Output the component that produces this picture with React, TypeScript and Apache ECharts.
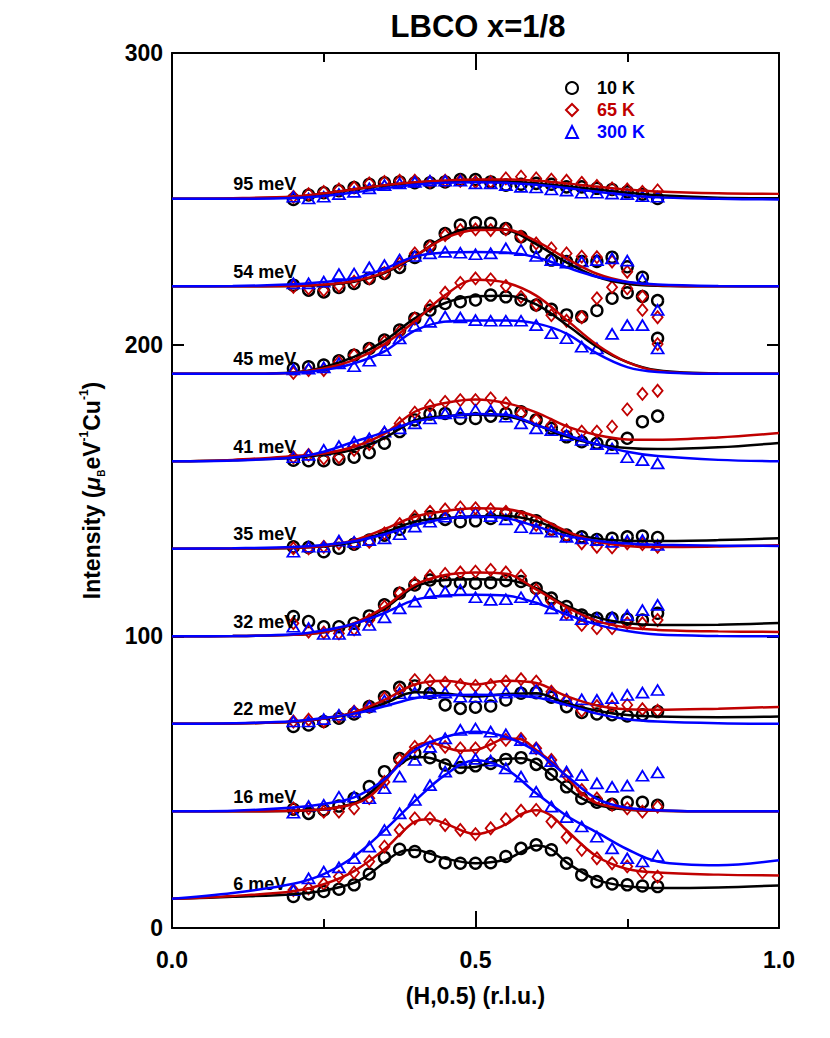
import React, { useEffect, useRef } from "react";
import * as echarts from "echarts";

// ---------- data ----------
const H = [0.2, 0.225, 0.25, 0.275, 0.3, 0.325, 0.35, 0.375, 0.4, 0.425, 0.45, 0.475, 0.5, 0.525, 0.55, 0.575, 0.6, 0.625, 0.65, 0.675, 0.7, 0.725, 0.75, 0.775, 0.8];
const ENERGIES = ["6 meV", "16 meV", "22 meV", "32 meV", "35 meV", "41 meV", "45 meV", "54 meV", "95 meV"];
const BASELINES = [10, 40, 70, 100, 130, 160, 190, 220, 250];
const TEMPS = ["10 K", "65 K", "300 K"];
const X_LABELS = ["0.0", "0.5", "1.0"];

// 10 K
const K10_6 = [10.8, 11.7, 12.5, 13.3, 14.8, 18.5, 24.2, 27.0, 26.2, 24.5, 22.4, 22.2, 22.2, 22.4, 24.5, 27.3, 28.5, 26.8, 22.2, 18.2, 15.9, 15.1, 14.8, 14.4, 14.2];
const K10_16 = [40.7, 39.3, 40.5, 41.8, 44.5, 48.5, 53.6, 58.1, 59.9, 58.4, 55.9, 55.0, 55.6, 56.4, 57.8, 58.4, 56.1, 52.7, 48.4, 44.4, 43.1, 42.4, 43.1, 43.1, 42.1];
const K10_22 = [69.1, 69.6, 70.8, 71.9, 73.4, 75.9, 79.3, 82.5, 83.0, 80.5, 76.5, 75.3, 75.7, 76.1, 78.2, 80.5, 80.7, 79.1, 75.9, 73.9, 73.4, 73.1, 72.7, 73.1, 74.2];
const K10_32 = [106.8, 105.1, 103.3, 103.3, 104.5, 107.0, 110.8, 114.8, 117.6, 119.3, 118.8, 118.4, 118.2, 118.4, 119.1, 118.8, 116.5, 113.1, 110.2, 107.3, 106.2, 106.2, 105.9, 105.6, 107.9];
const K10_35 = [130.7, 130.5, 129.0, 130.2, 131.6, 133.0, 134.7, 136.7, 139.9, 141.0, 140.1, 139.3, 139.6, 140.4, 141.9, 141.0, 139.6, 136.7, 134.7, 134.1, 133.2, 133.6, 134.1, 134.4, 133.9];
const K10_41 = [160.4, 160.2, 160.2, 160.7, 161.4, 163.0, 166.2, 170.2, 174.2, 176.2, 176.4, 174.7, 174.7, 175.5, 176.4, 177.0, 174.2, 171.3, 168.4, 166.7, 166.2, 165.9, 167.9, 173.6, 175.5];
const K10_45 = [191.8, 192.4, 193.0, 194.5, 196.4, 198.7, 201.6, 205.0, 209.0, 211.8, 214.1, 214.7, 215.3, 217.0, 216.4, 215.3, 213.6, 212.1, 210.2, 209.6, 211.7, 215.9, 217.8, 216.5, 202.2];
const K10_54 = [220.4, 218.7, 218.1, 219.6, 221.0, 222.7, 224.4, 226.5, 229.9, 233.8, 238.1, 241.0, 241.8, 241.6, 239.8, 237.0, 233.3, 229.0, 228.5, 228.5, 228.5, 230.0, 226.7, 223.1, 215.1];
const K10_95 = [249.8, 251.3, 252.1, 252.8, 253.9, 255.0, 255.5, 255.8, 255.5, 255.5, 255.8, 256.6, 256.6, 255.8, 254.7, 255.0, 255.3, 255.0, 254.1, 254.1, 253.6, 253.2, 252.4, 251.6, 250.1];

// 65 K
const K65_6 = [13.0, 13.6, 15.1, 17.6, 19.0, 22.8, 27.9, 33.6, 37.6, 37.6, 35.3, 33.6, 32.2, 34.2, 37.3, 40.2, 40.5, 36.5, 31.1, 26.8, 23.9, 22.2, 21.1, 19.0, 17.6];
const K65_16 = [41.0, 41.0, 39.9, 39.9, 41.0, 44.5, 50.1, 57.6, 62.1, 63.9, 62.1, 61.6, 61.6, 62.7, 64.5, 64.8, 61.6, 57.6, 52.4, 47.3, 44.4, 42.2, 41.0, 39.9, 41.6];
const K65_22 = [70.8, 71.4, 70.8, 72.5, 74.2, 75.9, 78.8, 81.6, 85.0, 84.8, 84.1, 83.3, 83.0, 83.3, 84.5, 85.3, 84.5, 81.0, 78.2, 74.5, 76.1, 75.9, 76.5, 75.0, 74.5];
const K65_32 = [104.5, 101.6, 101.3, 101.0, 102.4, 105.6, 110.2, 114.8, 118.2, 120.7, 121.4, 121.9, 122.2, 122.8, 121.9, 120.7, 115.9, 111.9, 107.9, 103.9, 102.8, 102.8, 104.5, 104.5, 105.6];
const K65_35 = [130.2, 130.2, 130.7, 131.9, 131.9, 132.4, 135.3, 138.5, 141.0, 142.7, 143.5, 144.2, 143.9, 143.5, 142.7, 140.4, 138.2, 136.4, 134.4, 131.9, 130.7, 130.5, 131.9, 131.6, 130.7];
const K65_41 = [161.4, 162.2, 161.0, 161.4, 163.9, 165.9, 169.6, 173.0, 176.7, 179.0, 180.4, 181.0, 181.0, 181.6, 179.9, 176.4, 174.2, 172.4, 170.7, 170.2, 170.2, 171.9, 177.8, 183.1, 184.2];
const K65_45 = [190.3, 191.3, 191.3, 194.1, 196.4, 198.4, 201.0, 204.4, 209.0, 213.2, 217.8, 221.2, 222.7, 222.4, 220.1, 216.4, 213.6, 210.1, 208.2, 209.4, 215.9, 219.7, 219.3, 211.9, 200.2];
const K65_54 = [219.8, 219.3, 218.7, 220.1, 221.6, 222.7, 224.6, 227.8, 231.3, 233.6, 237.6, 239.3, 239.5, 239.3, 239.5, 237.0, 234.7, 233.0, 231.3, 230.2, 230.0, 228.5, 225.0, 216.5, 209.4];
const K65_95 = [250.7, 251.6, 252.4, 253.2, 253.9, 255.3, 255.8, 256.2, 256.2, 255.8, 256.2, 256.2, 255.8, 255.8, 257.0, 257.6, 257.0, 256.6, 256.2, 255.5, 254.4, 253.6, 253.2, 252.4, 252.9];

// 300 K
const K300_6 = [13.0, 17.0, 19.3, 20.8, 23.9, 27.9, 33.6, 39.3, 43.9, 49.0, 53.6, 57.6, 58.0, 57.4, 54.7, 51.9, 46.7, 41.6, 38.0, 34.8, 31.3, 27.3, 23.9, 22.8, 24.7];
const K300_16 = [39.5, 41.8, 42.2, 45.0, 45.0, 44.5, 47.9, 51.9, 57.6, 62.1, 65.0, 67.9, 68.4, 67.3, 66.4, 64.4, 61.6, 57.2, 53.6, 52.4, 49.6, 48.4, 48.8, 52.2, 53.3];
const K300_22 = [70.8, 70.8, 71.6, 73.1, 74.2, 75.9, 78.0, 80.5, 80.7, 80.5, 80.7, 79.3, 79.3, 79.3, 80.7, 81.0, 81.6, 80.5, 78.4, 78.4, 78.2, 78.8, 79.9, 80.7, 81.6];
const K300_32 = [103.3, 102.8, 100.8, 100.8, 102.2, 103.9, 106.5, 109.6, 111.9, 114.8, 115.3, 115.9, 113.4, 112.5, 112.7, 113.4, 112.7, 109.6, 107.3, 105.9, 106.2, 106.5, 107.3, 109.0, 110.8];
const K300_35 = [129.0, 130.7, 130.7, 132.8, 132.4, 133.0, 133.6, 135.0, 137.6, 139.3, 141.0, 142.2, 142.4, 141.2, 140.1, 137.4, 137.0, 135.9, 134.1, 133.6, 133.0, 132.4, 132.8, 133.0, 131.3];
const K300_41 = [161.4, 162.2, 163.9, 165.2, 166.7, 167.9, 170.2, 171.3, 173.0, 174.7, 176.4, 176.7, 177.6, 177.4, 175.3, 173.0, 171.3, 170.7, 169.0, 167.3, 165.9, 164.4, 161.4, 160.4, 159.3];
const K300_45 = [191.5, 191.8, 192.2, 193.6, 192.6, 194.5, 198.1, 202.1, 206.4, 207.8, 209.6, 209.3, 208.4, 208.2, 208.2, 208.2, 206.7, 203.9, 202.2, 199.3, 198.7, 203.7, 206.7, 206.7, 198.7];
const K300_54 = [221.0, 221.0, 221.6, 224.2, 224.4, 226.5, 227.3, 229.2, 230.4, 231.3, 231.8, 231.5, 231.0, 231.3, 233.0, 232.4, 230.4, 229.0, 228.1, 228.5, 229.0, 229.6, 228.8, 222.4, 211.9];
const K300_95 = [250.7, 250.1, 250.7, 251.6, 252.4, 253.6, 254.7, 255.3, 255.8, 256.2, 256.2, 256.2, 255.3, 255.3, 254.7, 254.1, 253.9, 253.2, 252.8, 252.1, 252.1, 251.8, 251.6, 250.9, 250.7];

// fit curves
const FIT_H = [0, 0.1, 0.2, 0.25, 0.3, 0.35, 0.4, 0.45, 0.5, 0.55, 0.6, 0.65, 0.7, 0.75, 0.8, 0.9, 1.0];
const FIT_H_6_10K = [0, 0.1, 0.2, 0.25, 0.3, 0.325, 0.35, 0.375, 0.4, 0.425, 0.45, 0.5, 0.55, 0.575, 0.6, 0.625, 0.65, 0.7, 0.75, 0.8, 0.9, 1.0];
const FIT_H_6_65K = [0, 0.1, 0.2, 0.25, 0.3, 0.35, 0.375, 0.4, 0.425, 0.45, 0.5, 0.55, 0.575, 0.6, 0.625, 0.65, 0.7, 0.75, 0.8, 0.9, 1.0];
const FIT_H_16 = [0, 0.1, 0.2, 0.25, 0.3, 0.325, 0.35, 0.375, 0.4, 0.425, 0.45, 0.475, 0.5, 0.525, 0.55, 0.575, 0.6, 0.625, 0.65, 0.675, 0.7, 0.75, 0.8, 0.9, 1.0];

const F10_6 = [10, 10.7, 11.6, 12.8, 15.5, 18.5, 22.5, 26, 26.8, 25.5, 23.8, 22.2, 23.5, 26, 28.3, 27, 22.5, 16.5, 14.3, 13.7, 13.9, 14.6];
const F10_16 = [40, 40, 40.2, 40.7, 42.8, 46, 51, 56, 58.6, 58.3, 56.5, 55, 55.2, 56.8, 58, 58.2, 56.5, 52.5, 48.3, 44.5, 42.2, 40.6, 40.2, 40, 40];
const F10_22 = [70, 70.1, 70.7, 71.8, 73.6, 77, 80.8, 80.4, 79.4, 80.2, 80.5, 77, 74.5, 73, 72.5, 72.3, 72.5];
const F10_32 = [100, 100.1, 100.5, 101.5, 104.3, 109.5, 117, 119.3, 119.6, 119.4, 116.5, 110.5, 106.5, 104.5, 103.9, 104, 104.6];
const F10_35 = [130, 130.1, 130.3, 130.9, 132.3, 135.6, 139.3, 140.5, 141.2, 141.3, 139.5, 135.5, 133.5, 132.8, 132.7, 133, 133.6];
const F10_41 = [160, 160.4, 161.2, 162.3, 164, 168, 174, 175.5, 176, 175.5, 172.5, 168.5, 165.8, 164.6, 164.2, 164.8, 166.3];
const F10_45 = [190, 190, 190.5, 192.3, 195.8, 201.3, 209, 214.3, 216.6, 216.8, 213.8, 206.8, 199.3, 194, 191.2, 190.1, 190];
const F10_54 = [220, 220, 220.1, 220.5, 221.6, 224.5, 230.2, 237, 240.2, 239.5, 234.5, 228.2, 223.3, 220.9, 220.2, 220, 220];
const F10_95 = [250, 250.1, 250.6, 251.8, 253.2, 254.6, 255.5, 256, 256.2, 256, 255.3, 254.3, 253.2, 252.1, 251.2, 250.4, 250.2];

const F65_6 = [10, 11, 12.6, 15, 19.5, 27, 32, 36.5, 37.3, 35.8, 32.2, 35.5, 39, 40.4, 38.5, 33.5, 24.5, 20.2, 19, 18.3, 18];
const F65_16 = [40, 40, 40.2, 40.7, 42.5, 45, 50, 57, 62.2, 63.6, 62, 60.8, 61, 63, 65, 64.7, 61, 57, 51.9, 46.2, 42.8, 40.7, 40.2, 40, 40];
const F65_22 = [70, 70.1, 70.7, 71.8, 74, 78.2, 83.5, 84.8, 83.5, 84.8, 84, 79.5, 76.3, 75, 74.8, 75.2, 75.8];
const F65_32 = [100, 100.1, 100.5, 101.5, 104.5, 110, 117.6, 121, 121.9, 121.5, 116.1, 110, 105.3, 103, 102.2, 101.7, 101.5];
const F65_35 = [130, 130.1, 130.4, 131, 133, 136.8, 141, 143, 143.9, 143.6, 141, 136, 132.5, 131, 130.6, 130.8, 131.2];
const F65_41 = [160, 160.5, 161.8, 162.7, 165, 169.5, 177, 180, 181.2, 180, 176.8, 172, 169, 167.5, 167.4, 168.2, 169.7];
const F65_45 = [190, 190, 190.4, 191.8, 194.8, 200.2, 208, 217, 222.3, 221.3, 216.8, 208.5, 200, 194, 191, 190.1, 190];
const F65_54 = [220, 220, 220.1, 220.6, 221.8, 224.8, 230.4, 236.5, 239.3, 239.4, 235.5, 229.5, 224.3, 221.5, 220.4, 220, 220];
const F65_95 = [250, 250.2, 250.8, 251.9, 253.3, 254.7, 255.7, 256.3, 256.6, 256.6, 256.2, 255.3, 254.2, 253.2, 252.5, 251.9, 251.7];

const F300_6 = [10, 12, 15.2, 18.5, 24.5, 33.5, 43.5, 52.5, 57.5, 54.5, 46.2, 38.5, 32.8, 27, 22.8, 21.5, 23.2];
const F300_16 = [40, 40.2, 41.3, 42.5, 44.8, 51, 61, 65.5, 67.3, 65.5, 60.5, 52.2, 44.3, 41.2, 40.4, 40, 40];
const F300_22 = [70, 70.2, 70.9, 72, 73.5, 76, 78.8, 79.8, 80, 79.9, 79, 76.5, 73.5, 71.6, 70.8, 70.2, 70];
const F300_32 = [100, 100.1, 100.7, 102, 104.3, 108, 112.5, 114, 114.3, 114, 111.5, 107.5, 104, 101.8, 100.6, 100.1, 100];
const F300_35 = [130, 130.2, 130.6, 131.3, 132.6, 135, 138.2, 140.3, 141.1, 140.5, 137.7, 134.5, 132.8, 131.8, 131.4, 131.1, 131];
const F300_41 = [160, 160.3, 161.3, 163.3, 166.7, 170, 173.6, 175.3, 176.2, 176, 172.5, 169, 165.8, 163.3, 161.8, 160.5, 160];
const F300_45 = [190, 190, 190.3, 191.3, 193.6, 197.7, 204.8, 207.9, 208.3, 208.3, 207.3, 203.8, 197, 192.3, 190.6, 190, 190];
const F300_54 = [220, 220.1, 220.7, 221.5, 222.7, 226, 230.2, 231.6, 231.8, 231.6, 230, 226.5, 223.3, 221.5, 220.6, 220.1, 220];
const F300_95 = [250, 250, 250.3, 251, 252.2, 253.6, 254.8, 255.5, 255.7, 255.5, 254.8, 253.7, 252.4, 251.3, 250.5, 250, 249.8];

const DATA_10K = [K10_6, K10_16, K10_22, K10_32, K10_35, K10_41, K10_45, K10_54, K10_95];
const DATA_65K = [K65_6, K65_16, K65_22, K65_32, K65_35, K65_41, K65_45, K65_54, K65_95];
const DATA_300K = [K300_6, K300_16, K300_22, K300_32, K300_35, K300_41, K300_45, K300_54, K300_95];

const FITS_10K: [number[], number[]][] = [[FIT_H_6_10K, F10_6], [FIT_H_16, F10_16], [FIT_H, F10_22], [FIT_H, F10_32], [FIT_H, F10_35], [FIT_H, F10_41], [FIT_H, F10_45], [FIT_H, F10_54], [FIT_H, F10_95]];
const FITS_65K: [number[], number[]][] = [[FIT_H_6_65K, F65_6], [FIT_H_16, F65_16], [FIT_H, F65_22], [FIT_H, F65_32], [FIT_H, F65_35], [FIT_H, F65_41], [FIT_H, F65_45], [FIT_H, F65_54], [FIT_H, F65_95]];
const FITS_300K: [number[], number[]][] = [[FIT_H, F300_6], [FIT_H, F300_16], [FIT_H, F300_22], [FIT_H, F300_32], [FIT_H, F300_35], [FIT_H, F300_41], [FIT_H, F300_45], [FIT_H, F300_54], [FIT_H, F300_95]];

// ---------- component ----------
export default function App() {
  const ref = useRef<HTMLDivElement>(null);

  useEffect(() => {
    document.body.style.margin = "0";
    if (!ref.current) return;
    const chart = echarts.init(ref.current, null, { renderer: "svg" });
    const FONT = "'Liberation Sans', Arial, Helvetica, sans-serif";
    const COLORS = ["#000000", "#c00000", "#0000ff"];
    const SYMBOLS = ["circle", "diamond", "triangle"];
    const SIZES: any[] = [11, [10, 12], [12, 10]];
    const BORDER = [2.4, 1.8, 1.8];
    const ALL = [DATA_10K, DATA_65K, DATA_300K];
    const FITS = [FITS_10K, FITS_65K, FITS_300K];
    const LABEL_H = 0.1;
    const LABEL_DY = 5;

    const series: any[] = [];
    series.push({
      type: "scatter",
      name: "labels",
      symbolSize: 1,
      itemStyle: { color: "rgba(0,0,0,0)", opacity: 1 },
      silent: true,
      data: ENERGIES.map((e, k) => ({ name: e, value: [LABEL_H, BASELINES[k] + LABEL_DY] })),
      label: {
        show: true,
        position: "right",
        distance: 0,
        formatter: "{b}",
        fontSize: 18,
        fontWeight: "bold",
        color: "#000",
        opacity: 1,
        fontFamily: FONT,
      },
    });

    TEMPS.forEach((t, ti) => {
      const pts: number[][] = [];
      ALL[ti].forEach((vals) => vals.forEach((v, i) => pts.push([H[i], v])));
      series.push({
        type: "scatter",
        name: t,
        symbol: SYMBOLS[ti],
        symbolSize: SIZES[ti],
        silent: true,
        itemStyle: { color: "rgba(0,0,0,0)", borderColor: COLORS[ti], borderWidth: BORDER[ti], opacity: 1 },
        data: pts,
      });
      FITS[ti].forEach(([hs, vs], k) => {
        series.push({
          type: "line",
          name: `${t} fit ${ENERGIES[k]}`,
          data: hs.map((h, i) => [h, vs[i]]),
          symbol: "none",
          smooth: 0.35,
          silent: true,
          lineStyle: { color: COLORS[ti], width: 2.5 },
        });
      });
    });

    const axisLine = { show: true, onZero: false, lineStyle: { color: "#000", width: 2 } };

    chart.setOption({
      animation: false,
      backgroundColor: "#fff",
      graphic: [
        {
          type: "text",
          x: 478,
          y: 26,
          style: {
            text: "LBCO x=1/8",
            fontSize: 31,
            fontWeight: "bold",
            fontFamily: FONT,
            fill: "#000",
            align: "center",
            verticalAlign: "middle",
          },
        },
      ],
      legend: {
        orient: "vertical",
        left: 560,
        top: 74,
        itemWidth: 12,
        itemHeight: 12,
        itemGap: 4,
        selectedMode: false,
        textStyle: { fontSize: 18, fontWeight: "bold", fontFamily: FONT, padding: [0, 0, 0, 14] },
        data: TEMPS.map((t, ti) => ({ name: t, textStyle: { color: COLORS[ti] } })),
      },
      grid: { left: 172, right: 51, top: 53, bottom: 110, containLabel: false },
      xAxis: [
        {
          type: "value",
          min: 0,
          max: 1,
          interval: 0.5,
          position: "bottom",
          axisLine,
          axisTick: { show: true, inside: true, length: 17, lineStyle: { color: "#000", width: 2 } },
          minorTick: { show: true, splitNumber: 2, length: 9, lineStyle: { color: "#000", width: 2 } },
          splitLine: { show: false },
          minorSplitLine: { show: false },
          axisLabel: {
            margin: 20,
            fontSize: 23,
            fontWeight: "bold",
            color: "#000",
            fontFamily: FONT,
            formatter: (v: number) => X_LABELS[Math.round(v * 2)],
          },
          name: "(H,0.5) (r.l.u.)",
          nameLocation: "middle",
          nameGap: 56,
          nameTextStyle: { fontSize: 23, fontWeight: "bold", color: "#000", fontFamily: FONT },
        },
        {
          type: "value",
          min: 0,
          max: 1,
          interval: 0.5,
          position: "top",
          axisLine,
          axisTick: { show: true, inside: true, length: 17, lineStyle: { color: "#000", width: 2 } },
          minorTick: { show: true, splitNumber: 2, length: 9, lineStyle: { color: "#000", width: 2 } },
          splitLine: { show: false },
          axisLabel: { show: false },
        },
      ],
      yAxis: [
        {
          type: "value",
          min: 0,
          max: 300,
          interval: 100,
          position: "left",
          axisLine,
          axisTick: { show: true, inside: true, length: 12, lineStyle: { color: "#000", width: 2 } },
          splitLine: { show: false },
          axisLabel: { margin: 9, fontSize: 23, fontWeight: "bold", color: "#000", fontFamily: FONT },
          name: "{t|Intensity (}{mu|μ}{sb|B}{t|eV}{sp|-1}{t|Cu}{sp|-1}{t|)}",
          nameLocation: "middle",
          nameRotate: 90,
          nameGap: 66,
          nameTextStyle: {
            fontSize: 23,
            fontWeight: "bold",
            color: "#000",
            fontFamily: FONT,
            rich: {
              t: { fontSize: 23, fontWeight: "bold", color: "#000", fontFamily: FONT, lineHeight: 28 },
              mu: { fontSize: 23, fontWeight: "bold", fontStyle: "italic", color: "#000", fontFamily: FONT, lineHeight: 28 },
              sb: { fontSize: 10, fontWeight: "bold", color: "#000", fontFamily: FONT, verticalAlign: "bottom", lineHeight: 12 },
              sp: { fontSize: 12, fontWeight: "bold", color: "#000", fontFamily: FONT, verticalAlign: "top", lineHeight: 14 },
            },
          },
        },
        {
          type: "value",
          min: 0,
          max: 300,
          interval: 100,
          position: "right",
          axisLine,
          axisTick: { show: true, inside: true, length: 12, lineStyle: { color: "#000", width: 2 } },
          splitLine: { show: false },
          axisLabel: { show: false },
        },
      ],
      series,
    });

    return () => {
      chart.dispose();
    };
  }, []);

  return <div ref={ref} style={{ width: 830, height: 1038 }} />;
}
